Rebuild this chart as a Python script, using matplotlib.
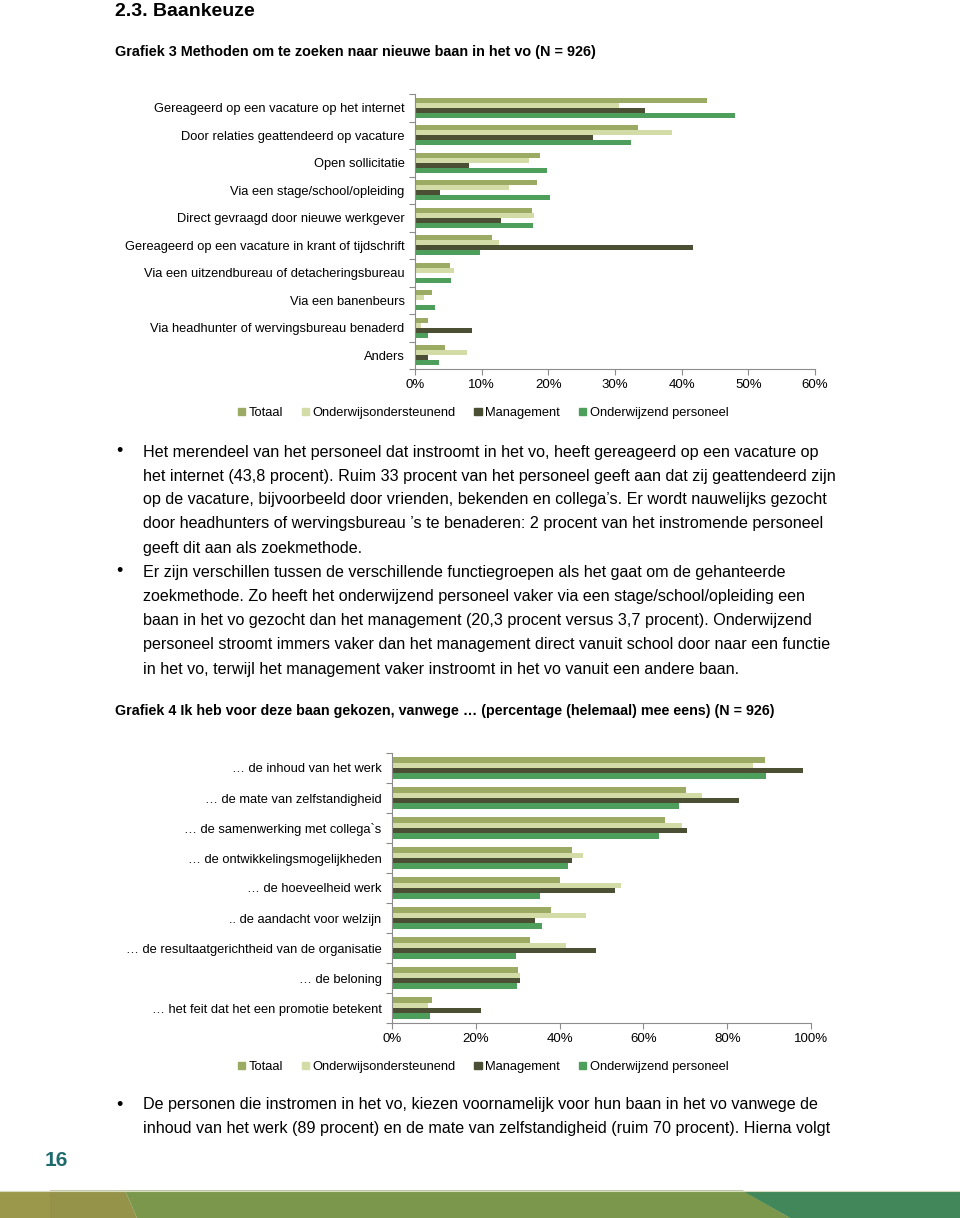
import matplotlib.pyplot as plt
from matplotlib.patches import Polygon, Patch

# ---- data ----
cats1 = ["Gereageerd op een vacature op het internet",
         "Door relaties geattendeerd op vacature",
         "Open sollicitatie",
         "Via een stage/school/opleiding",
         "Direct gevraagd door nieuwe werkgever",
         "Gereageerd op een vacature in krant of tijdschrift",
         "Via een uitzendbureau of detacheringsbureau",
         "Via een banenbeurs",
         "Via headhunter of wervingsbureau benaderd",
         "Anders"]
totaal1 = [43.8, 33.5, 18.8, 18.3, 17.5, 11.6, 5.3, 2.6, 2.0, 4.5]
ondst1 = [30.6, 38.5, 17.1, 14.1, 17.8, 12.6, 5.8, 1.4, 0.9, 7.8]
mgmt1 = [34.5, 26.7, 8.1, 3.7, 12.9, 41.7, 0.0, 0.0, 8.5, 2.0]
onderw1 = [48.0, 32.4, 19.8, 20.3, 17.7, 9.8, 5.4, 3.0, 2.0, 3.6]
ticks1 = [0, 10, 20, 30, 40, 50, 60]

cats2 = ["… de inhoud van het werk",
         "… de mate van zelfstandigheid",
         "… de samenwerking met collega`s",
         "… de ontwikkelingsmogelijkheden",
         "… de hoeveelheid werk",
         ".. de aandacht voor welzijn",
         "… de resultaatgerichtheid van de organisatie",
         "… de beloning",
         "… het feit dat het een promotie betekent"]
totaal2 = [89.1, 70.2, 65.2, 42.9, 40.2, 37.9, 33.0, 30.0, 9.5]
ondst2 = [86.2, 73.9, 69.3, 45.7, 54.7, 46.2, 41.6, 30.5, 8.7]
mgmt2 = [98.2, 82.7, 70.4, 42.9, 53.2, 34.2, 48.8, 30.5, 21.3]
onderw2 = [89.3, 68.6, 63.7, 42.1, 35.4, 35.8, 29.7, 29.8, 9.1]
ticks2 = [0, 20, 40, 60, 80, 100]

series_names = ["Totaal", "Onderwijsondersteunend", "Management", "Onderwijzend personeel"]
colors = ["#9bab63", "#d3dba6", "#4b5034", "#4f9f5c"]

text1 = [
    "Het merendeel van het personeel dat instroomt in het vo, heeft gereageerd op een vacature op",
    "het internet (43,8 procent). Ruim 33 procent van het personeel geeft aan dat zij geattendeerd zijn",
    "op de vacature, bijvoorbeeld door vrienden, bekenden en collega’s. Er wordt nauwelijks gezocht",
    "door headhunters of wervingsbureau ’s te benaderen: 2 procent van het instromende personeel",
    "geeft dit aan als zoekmethode.",
    "Er zijn verschillen tussen de verschillende functiegroepen als het gaat om de gehanteerde",
    "zoekmethode. Zo heeft het onderwijzend personeel vaker via een stage/school/opleiding een",
    "baan in het vo gezocht dan het management (20,3 procent versus 3,7 procent). Onderwijzend",
    "personeel stroomt immers vaker dan het management direct vanuit school door naar een functie",
    "in het vo, terwijl het management vaker instroomt in het vo vanuit een andere baan.",
]
text2 = [
    "De personen die instromen in het vo, kiezen voornamelijk voor hun baan in het vo vanwege de",
    "inhoud van het werk (89 procent) en de mate van zelfstandigheid (ruim 70 procent). Hierna volgt",
]

W, H = 960, 1218
FONT = ["Liberation Sans", "DejaVu Sans"]
plt.rcParams["font.family"] = FONT

fig = plt.figure(figsize=(W / 100, H / 100), dpi=100)


def fx(x):
    return x / W


def fy(y):
    return 1 - y / H


def bar_chart(left, top, right, bottom, cats, data, ticks, legend_y):
    ax = fig.add_axes([fx(left), fy(bottom), fx(right - left), (bottom - top) / H])
    n = len(cats)
    h = 0.18
    for j, vals in enumerate(data):
        pos = [i + 0.5 + (j - 1.5) * h for i in range(n)]
        ax.barh(pos, vals, height=h, color=colors[j], label=series_names[j], linewidth=0)
    ax.set_xlim(ticks[0], ticks[-1])
    ax.set_ylim(n, 0)
    ax.set_xticks(ticks)
    ax.set_xticklabels([f"{t}%" for t in ticks], fontsize=9.5)
    ax.set_yticks(range(n + 1))
    ax.set_yticklabels([])
    ax.set_yticks([i + 0.5 for i in range(n)], minor=True)
    ax.set_yticklabels(cats, minor=True, fontsize=9.3)
    ax.tick_params(axis="y", which="minor", length=0, pad=7.5)
    ax.tick_params(axis="y", which="major", length=4, color="#8c8c8c")
    ax.tick_params(axis="x", length=4, color="#8c8c8c", pad=3)
    for s in ["top", "right"]:
        ax.spines[s].set_visible(False)
    for s in ["left", "bottom"]:
        ax.spines[s].set_color("#8c8c8c")
    handles = [Patch(color=c) for c in colors]
    fig.legend(handles, series_names, loc="center", bbox_to_anchor=(fx(483), fy(legend_y)),
               ncol=4, frameon=False, fontsize=9.3, handlelength=0.55, handleheight=0.55,
               handletextpad=0.3, columnspacing=1.45, borderpad=0)
    return ax


# heading and chart titles
fig.text(fx(115), fy(11), "2.3. Baankeuze", fontsize=14, fontweight="bold", va="center")
fig.text(fx(115), fy(52), "Grafiek 3 Methoden om te zoeken naar nieuwe baan in het vo (N = 926)",
         fontsize=10.4, fontweight="bold", va="center")
fig.text(fx(115), fy(711),
         "Grafiek 4 Ik heb voor deze baan gekozen, vanwege … (percentage (helemaal) mee eens) (N = 926)",
         fontsize=10.3, fontweight="bold", va="center")

bar_chart(415, 94, 815, 369, cats1, [totaal1, ondst1, mgmt1, onderw1], ticks1, 413)
bar_chart(392, 753, 811, 1023, cats2, [totaal2, ondst2, mgmt2, onderw2], ticks2, 1067)

# body text
line_y1 = [452, 476, 500, 524, 548, 572, 596, 620, 645, 669]
for s, y in zip(text1, line_y1):
    fig.text(fx(143), fy(y), s, fontsize=11.6, va="center")
for y in [452, 572, 1105]:
    fig.text(fx(119), fy(y), "•", fontsize=13, va="center", ha="center")
for s, y in zip(text2, [1105, 1129]):
    fig.text(fx(143), fy(y), s, fontsize=11.6, va="center")

# page number
fig.text(fx(45), fy(1160), "16", fontsize=15, fontweight="bold", color="#1f6a6c", va="center")

# footer band
top, bot = 1190.5, 1218
bands = [
    ([(0, top), (50, top), (50, bot), (0, bot)], "#9b984c"),
    ([(50, top), (125, top), (137, bot), (50, bot)], "#95934a"),
    ([(125, top), (743, top), (790, bot), (137, bot)], "#7a974b"),
    ([(743, top), (960, top), (960, bot), (790, bot)], "#428759"),
]
for pts, c in bands:
    fig.add_artist(Polygon([(fx(x), fy(y)) for x, y in pts], closed=True,
                           transform=fig.transFigure, facecolor=c, edgecolor="none"))
fig.add_artist(plt.Line2D([0, 1], [fy(top), fy(top)], transform=fig.transFigure,
                          color="#d6dcc2", linewidth=0.8))

fig.savefig("out.png", dpi=100)
